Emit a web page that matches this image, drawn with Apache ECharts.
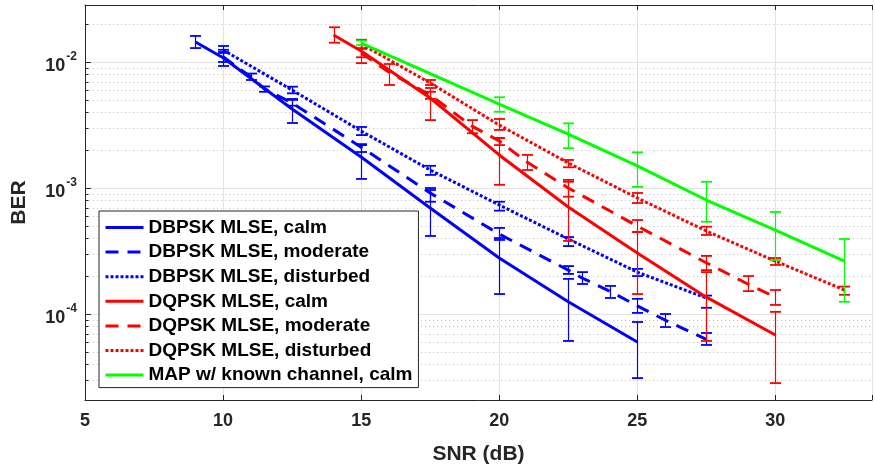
<!DOCTYPE html>
<html>
<head>
<meta charset="utf-8">
<script src="https://cdn.jsdelivr.net/npm/echarts@6/dist/echarts.min.js"></script>
<style>html,body{margin:0;padding:0;background:#fff}#c{width:875px;height:472px}</style>
</head>
<body>
<div id="c"></div>
<script>
// ---------------- DATA ----------------
const seriesNames = [
  'DBPSK MLSE, calm', 'DBPSK MLSE, moderate', 'DBPSK MLSE, disturbed',
  'DQPSK MLSE, calm', 'DQPSK MLSE, moderate', 'DQPSK MLSE, disturbed',
  'MAP w/ known channel, calm'
];
const xTicks = [5, 10, 15, 20, 25, 30];
const yTicks = [1e-4, 1e-3, 1e-2];
const minorTicks = [3e-5,4e-5,5e-5,6e-5,7e-5,8e-5,9e-5,
  2e-4,3e-4,4e-4,5e-4,6e-4,7e-4,8e-4,9e-4,
  2e-3,3e-3,4e-3,5e-3,6e-3,7e-3,8e-3,9e-3, 2e-2];

// DBPSK MLSE, calm
const dbpskCalmSnr  = [9, 10, 12.5, 15, 17.5, 20, 22.5, 25];
const dbpskCalmBer  = [0.0144, 0.0108, 0.00424, 0.00176, 6.94e-4, 2.78e-4, 1.25e-4, 5.99e-5];
const dbpskCalmLow  = [0.0129, 0.0093, 0.00328, 0.00118, 4.16e-4, 1.44e-4, 6.11e-5, 3.10e-5];
const dbpskCalmHigh = [0.0161, 0.0125, 0.00509, 0.00223, 9.64e-4, 4.01e-4, 1.90e-4, 8.64e-5];

// DBPSK MLSE, moderate
const dbpskModSnr  = [10, 11, 11.5, 12.5, 15, 17.5, 20, 22.5, 23, 24, 25, 26, 27.5];
const dbpskModBer  = [0.0110, 0.00764, 0.00611, 0.00473, 0.00211, 9.13e-4, 4.31e-4, 2.23e-4, 1.93e-4, 1.52e-4, 1.16e-4, 8.96e-5, 6.3e-5];
const dbpskModLow  = [0.0100, 0.0072, 0.0058, 0.0045, 0.00193, 7.78e-4, 3.87e-4, 2.08e-4, 1.73e-4, 1.34e-4, 1.02e-4, 7.88e-5, 5.68e-5];
const dbpskModHigh = [0.0120, 0.0081, 0.0064, 0.0050, 0.00219, 1.0e-3, 4.82e-4, 2.40e-4, 2.15e-4, 1.67e-4, 1.32e-4, 1.0e-4, 7.07e-5];

// DBPSK MLSE, disturbed
const dbpskDistSnr  = [10, 12.5, 15, 17.5, 20, 22.5, 25, 27.5];
const dbpskDistBer  = [0.01245, 0.00599, 0.00283, 0.00139, 7.33e-4, 3.94e-4, 2.15e-4, 1.34e-4];
const dbpskDistLow  = [0.0118, 0.00564, 0.00263, 0.00127, 6.61e-4, 3.46e-4, 2.00e-4, 1.12e-4];
const dbpskDistHigh = [0.0134, 0.00637, 0.00305, 0.00150, 7.78e-4, 4.08e-4, 2.28e-4, 1.40e-4];

// DQPSK MLSE, calm
const dqpskCalmSnr  = [14, 15, 17.5, 20, 22.5, 25, 27.5, 30];
const dqpskCalmBer  = [0.01638, 0.01223, 0.00518, 0.00183, 7.07e-4, 3.05e-4, 1.36e-4, 6.81e-5];
const dqpskCalmLow  = [0.01423, 0.0098, 0.00346, 0.00106, 3.80e-4, 1.44e-4, 6.11e-5, 2.83e-5];
const dqpskCalmHigh = [0.01886, 0.0150, 0.00622, 0.00249, 1.16e-3, 4.47e-4, 2.15e-4, 1.04e-4];

// DQPSK MLSE, moderate
const dqpskModSnr  = [15, 16, 17.5, 19, 20, 21, 22.5, 25, 27.5, 29, 30];
const dqpskModBer  = [0.01179, 0.00833, 0.00547, 0.00311, 0.00236, 0.00161, 0.00100, 4.99e-4, 2.55e-4, 1.73e-4, 1.36e-4];
const dqpskModLow  = [0.0109, 0.00657, 0.0051, 0.00272, 0.00219, 0.00139, 8.53e-4, 4.47e-4, 2.23e-4, 1.52e-4, 1.18e-4];
const dqpskModHigh = [0.0127, 0.00964, 0.0058, 0.00346, 0.00249, 0.00183, 1.12e-3, 5.57e-4, 2.89e-4, 2.00e-4, 1.55e-4];

// DQPSK MLSE, disturbed
const dqpskDistSnr  = [15, 17.5, 20, 22.5, 25, 27.5, 30, 32.5];
const dqpskDistBer  = [0.0139, 0.00681, 0.00316, 0.00158, 8.33e-4, 4.56e-4, 2.63e-4, 1.55e-4];
const dqpskDistLow  = [0.0129, 0.00657, 0.00289, 0.00146, 7.60e-4, 4.24e-4, 2.45e-4, 1.42e-4];
const dqpskDistHigh = [0.0150, 0.00720, 0.00353, 0.00167, 9.13e-4, 4.93e-4, 2.78e-4, 1.65e-4];

// MAP w/ known channel, calm
const mapSnr  = [15, 20, 22.5, 25, 27.5, 30, 32.5];
const mapBer  = [0.01415, 0.00464, 0.00268, 0.00150, 8.03e-4, 4.64e-4, 2.63e-4];
const mapLow  = [0.0136, 0.00403, 0.00207, 0.00102, 5.40e-4, 2.68e-4, 1.25e-4];
const mapHigh = [0.0148, 0.00525, 0.00326, 0.00192, 1.12e-3, 6.45e-4, 3.94e-4];

// ---------------- CHART ----------------
const FONT = '"Liberation Sans", Arial, Helvetica, sans-serif';
const AX = '#262626';
const X_MIN = 5, X_MAX = 33.5;
const Y_MIN = 2.077e-5, Y_MAX = 0.02834;
const DASH = [13, 9], DOT = [3, 2];

const defs = [
  {snr: dbpskCalmSnr, ber: dbpskCalmBer, low: dbpskCalmLow, high: dbpskCalmHigh, color: '#0000ff', type: 'solid'},
  {snr: dbpskModSnr,  ber: dbpskModBer,  low: dbpskModLow,  high: dbpskModHigh,  color: '#0000ff', type: DASH},
  {snr: dbpskDistSnr, ber: dbpskDistBer, low: dbpskDistLow, high: dbpskDistHigh, color: '#0000ff', type: DOT},
  {snr: dqpskCalmSnr, ber: dqpskCalmBer, low: dqpskCalmLow, high: dqpskCalmHigh, color: '#ff0000', type: 'solid'},
  {snr: dqpskModSnr,  ber: dqpskModBer,  low: dqpskModLow,  high: dqpskModHigh,  color: '#ff0000', type: DASH},
  {snr: dqpskDistSnr, ber: dqpskDistBer, low: dqpskDistLow, high: dqpskDistHigh, color: '#ff0000', type: DOT},
  {snr: mapSnr,       ber: mapBer,       low: mapLow,       high: mapHigh,       color: '#00ff00', type: 'solid'}
];

function errRenderer(color) {
  return function (params, api) {
    const x = api.value(0), lo = api.value(1), hi = api.value(2);
    const pHi = api.coord([x, hi]);
    const pLo = api.coord([x, lo]);
    const cx = Math.round(pHi[0]) + 0.5;
    const hw = 5.5;
    return {
      type: 'group',
      children: [
        {type: 'line', shape: {x1: cx, y1: pHi[1], x2: cx, y2: pLo[1]}, style: {stroke: color, lineWidth: 1.2}},
        {type: 'line', shape: {x1: cx - hw, y1: pHi[1], x2: cx + hw, y2: pHi[1]}, style: {stroke: color, lineWidth: 1.8}},
        {type: 'line', shape: {x1: cx - hw, y1: pLo[1], x2: cx + hw, y2: pLo[1]}, style: {stroke: color, lineWidth: 1.8}}
      ]
    };
  };
}

const series = [];
series.push({
  type: 'custom', name: 'minorGrid', silent: true, z: 1, clip: false,
  data: minorTicks.map(v => [X_MIN, v]),
  encode: {x: 0, y: 1},
  renderItem: function (params, api) {
    const cs = params.coordSys;
    const y = Math.round(api.coord([X_MIN, api.value(1)])[1]) + 0.5;
    return {
      type: 'group',
      children: [
        {type: 'line', shape: {x1: cs.x, y1: y, x2: cs.x + cs.width, y2: y}, style: {stroke: '#c4c4c4', lineWidth: 1, lineDash: [1, 3]}},
        {type: 'line', shape: {x1: cs.x, y1: y, x2: cs.x + 3.5, y2: y}, style: {stroke: AX, lineWidth: 1}}
      ]
    };
  }
});
defs.forEach((d, i) => {
  series.push({
    type: 'line', name: seriesNames[i],
    data: d.snr.map((x, k) => [x, d.ber[k]]),
    symbol: 'none', showSymbol: false, z: 3 + i,
    lineStyle: {color: d.color, width: 3, type: d.type},
    itemStyle: {color: d.color},
    animation: false
  });
  series.push({
    type: 'custom', name: seriesNames[i] + ' error', silent: true, z: 3 + i,
    data: d.snr.map((x, k) => [x, d.low[k], d.high[k]]),
    encode: {x: 0, y: [1, 2]},
    renderItem: errRenderer(d.color),
    animation: false
  });
});

const option = {
  animation: false,
  backgroundColor: '#ffffff',
  grid: {left: 85, top: 5, right: -8, bottom: 72},
  xAxis: [
    {
      type: 'value', min: X_MIN, max: X_MAX, interval: 5, position: 'bottom',
      name: 'SNR (dB)', nameLocation: 'middle', nameGap: 44,
      nameTextStyle: {fontFamily: FONT, fontWeight: 'bold', fontSize: 21, color: AX},
      axisLine: {show: true, lineStyle: {color: AX, width: 1}},
      axisTick: {show: true, inside: true, length: 5, lineStyle: {color: AX}},
      axisLabel: {
        margin: 12, fontFamily: FONT, fontWeight: 'bold', fontSize: 18, color: AX,
        formatter: v => (xTicks.indexOf(v) >= 0 ? String(v) : '')
      },
      splitLine: {show: true, lineStyle: {color: '#e3e3e3', width: 1}}
    },
    {
      type: 'value', min: X_MIN, max: X_MAX, interval: 5, position: 'top',
      axisLine: {show: true, lineStyle: {color: AX, width: 1}},
      axisTick: {show: true, inside: true, length: 5, lineStyle: {color: AX}},
      axisLabel: {show: false},
      splitLine: {show: false}
    }
  ],
  yAxis: {
    type: 'log', logBase: 10, min: Y_MIN, max: Y_MAX,
    name: 'BER', nameLocation: 'middle', nameGap: 55, nameRotate: 90,
    nameTextStyle: {fontFamily: FONT, fontWeight: 'bold', fontSize: 21, color: AX},
    axisLine: {show: true, lineStyle: {color: AX, width: 1}},
    axisTick: {show: true, inside: true, length: 6, lineStyle: {color: AX}},
    axisLabel: {
      margin: 8,
      formatter: function (v) {
        for (const t of yTicks) {
          if (Math.abs(v - t) / t < 1e-6) return '{b|10}{s|' + Math.round(Math.log10(t)) + '}';
        }
        return '';
      },
      rich: {
        b: {fontFamily: FONT, fontWeight: 'bold', fontSize: 18, color: AX, verticalAlign: 'bottom', padding: [8, 0, 0, 0]},
        s: {fontFamily: FONT, fontWeight: 'bold', fontSize: 12, color: AX, verticalAlign: 'top', padding: [2, 0, 0, 1]}
      }
    },
    splitLine: {show: true, lineStyle: {color: '#e3e3e3', width: 1}}
  },
  legend: {
    data: seriesNames,
    orient: 'vertical', left: 99, top: 211,
    padding: [7, 6, 3, 5], itemGap: 5.6, itemWidth: 38, itemHeight: 14,
    backgroundColor: '#ffffff', borderColor: AX, borderWidth: 1,
    selectedMode: false,
    itemStyle: {opacity: 0, borderWidth: 0},
    lineStyle: {width: 3},
    textStyle: {fontFamily: FONT, fontWeight: 'bold', fontSize: 19, color: '#000', lineHeight: 19}
  },
  series: series
};

const chart = echarts.init(document.getElementById('c'), null, {renderer: 'canvas'});
chart.setOption(option);
</script>
</body>
</html>
